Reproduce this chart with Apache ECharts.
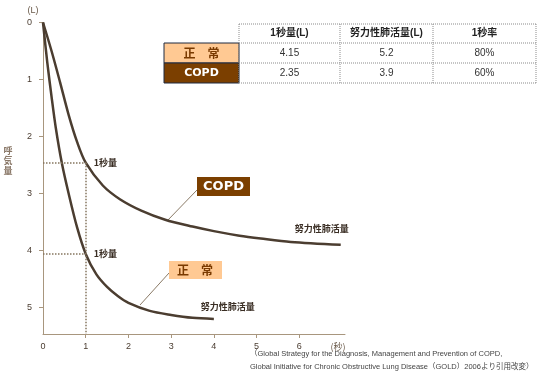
<!DOCTYPE html>
<html><head><meta charset="utf-8">
<script src="https://cdn.jsdelivr.net/npm/echarts@6/dist/echarts.min.js"></script>
<style>html,body{margin:0;padding:0;background:#fff}#c{width:550px;height:380px}</style>
</head><body><div id="c"></div>
<script>
// ---- data ----
const normalT = [0, 0.1, 0.2, 0.3, 0.44, 0.6, 0.8, 1, 1.25, 1.5, 1.75, 2, 2.5, 3, 3.5, 4];
const normalV = [0, 0.7, 1.3, 1.85, 2.46, 3.0, 3.6, 4.06, 4.42, 4.64, 4.8, 4.92, 5.06, 5.13, 5.18, 5.2];
const copdT = [0, 0.2, 0.4, 0.6, 0.8, 1, 1.4, 1.8, 2.3, 2.86, 3.5, 4, 4.6, 5.1, 5.8, 6.97];
const copdV = [0, 0.5, 1.05, 1.62, 2.1, 2.46, 2.86, 3.1, 3.3, 3.46, 3.58, 3.66, 3.74, 3.79, 3.85, 3.9];
const fev1Drawn = [2.46, 4.06];          // where the dotted 1-second lines sit on the curves
const xTicks = [0, 1, 2, 3, 4, 5, 6];
const yTicks = [0, 1, 2, 3, 4, 5];
const tableHeaders = ['1秒量(L)', '努力性肺活量(L)', '1秒率'];
const tableRowNames = ['正　常', 'COPD'];
const tableNormal = ['4.15', '5.2', '80%'];
const tableCopd = ['2.35', '3.9', '60%'];

const FONT = "'Liberation Sans','Noto Sans CJK JP',sans-serif";
const JP = "'Noto Sans CJK JP',sans-serif";
const curveColor = '#4b3d30';
const axisColor = '#a8967e';
const labelColor = '#4a3c30';
const brown = '#7b3f00';
const peach = '#ffc993';

const toPairs = (t, v) => t.map((x, i) => [x, v[i]]);

const chart = echarts.init(document.getElementById('c'), null, {renderer: 'canvas'});

const g = [];
const dot = {stroke: '#8c8c8c', lineWidth: 1, lineDash: [1, 1]};
const colX = [164, 239, 340, 433, 536];
const rowY = [24, 43, 63, 83];
function line(x1, y1, x2, y2, style) {
  g.push({type: 'line', shape: {x1, y1, x2, y2}, style: Object.assign({}, style), silent: true});
}
function text(x, y, t, st) {
  g.push({type: 'text', x, y, silent: true, style: Object.assign({text: t, align: 'center', verticalAlign: 'middle', fontFamily: FONT, fontSize: 10, fill: '#2a2a2a'}, st)});
}
g.push({type: 'rect', shape: {x: colX[0], y: rowY[1], width: colX[1] - colX[0], height: rowY[2] - rowY[1]}, style: {fill: peach, stroke: '#1e2a40', lineWidth: 1}, silent: true});
g.push({type: 'rect', shape: {x: colX[0], y: rowY[2], width: colX[1] - colX[0], height: rowY[3] - rowY[2]}, style: {fill: brown, stroke: '#1e2a40', lineWidth: 1}, silent: true});
line(colX[1], rowY[0], colX[4], rowY[0], dot);
for (let r = 1; r <= 3; r++) line(colX[1], rowY[r], colX[4], rowY[r], dot);
for (let c = 1; c <= 4; c++) line(colX[c], rowY[0], colX[c], rowY[3], dot);
for (let c = 0; c < 3; c++) {
  const cx = (colX[c + 1] + colX[c + 2]) / 2;
  text(cx, (rowY[0] + rowY[1]) / 2, tableHeaders[c], {fontWeight: 'bold', fontSize: 10, fill: '#222'});
  text(cx, (rowY[1] + rowY[2]) / 2, tableNormal[c], {fontSize: 10, fill: '#333'});
  text(cx, (rowY[2] + rowY[3]) / 2, tableCopd[c], {fontSize: 10, fill: '#333'});
}
text((colX[0] + colX[1]) / 2, (rowY[1] + rowY[2]) / 2, tableRowNames[0], {fontFamily: JP, fontWeight: 'bold', fontSize: 12, fill: '#7a3a00'});
text((colX[0] + colX[1]) / 2, (rowY[2] + rowY[3]) / 2, tableRowNames[1], {fontFamily: "'DejaVu Sans',sans-serif", fontWeight: 'bold', fontSize: 11, fill: '#fff'});

line(197, 190, 167, 221, {stroke: '#8a7a66', lineWidth: 1});
g.push({type: 'rect', shape: {x: 197, y: 177, width: 53, height: 19}, style: {fill: brown}, silent: true});
text(223.5, 186.5, 'COPD', {fontFamily: "'DejaVu Sans',sans-serif", fontWeight: 'bold', fontSize: 13, fill: '#fff'});
line(169, 273, 140, 305, {stroke: '#8a7a66', lineWidth: 1});
g.push({type: 'rect', shape: {x: 169, y: 261, width: 53, height: 18}, style: {fill: peach}, silent: true});
text(195, 270, '正　常', {fontFamily: JP, fontWeight: 'bold', fontSize: 12, fill: '#7a3a00'});

text(33, 11, '(L)', {fontSize: 9, fill: '#6a5a4a'});
text(338, 347, '(秒)', {fontSize: 9, fill: '#6a5a4a', fontFamily: JP});
g.push({type: 'text', x: 8, y: 161, silent: true, style: {text: '呼\n気\n量', align: 'center', verticalAlign: 'middle', fontFamily: JP, fontWeight: 'bold', fontSize: 9, lineHeight: 10, fill: '#8a7868'}});
text(250, 354, '（Global Strategy for the Diagnosis, Management and Prevention of COPD,', {align: 'left', fontSize: 7.5, fill: '#444'});
text(250, 367, 'Global Initiative for Chronic Obstructive Lung Disease（GOLD）2006より引用改変）', {align: 'left', fontSize: 7.5, fill: '#444'});

const dotted = {type: 'dotted', color: '#85755f', width: 1.5};
const oneSecLabel = {show: true, position: 'end', formatter: '1秒量', distance: 8, fontSize: 9, fontWeight: 'bold', color: '#3a2e24', fontFamily: JP};

chart.setOption({
  backgroundColor: '#fff',
  animation: false,
  grid: {left: 43, right: 205, top: 22.5, bottom: 46, containLabel: false},
  xAxis: {
    type: 'value', min: 0, max: 7.07, interval: 1, position: 'bottom',
    axisLine: {onZero: false, lineStyle: {color: axisColor, width: 1}},
    axisTick: {show: true, length: 4, lineStyle: {color: axisColor}, customValues: xTicks.slice(1)},
    axisLabel: {color: labelColor, fontSize: 9, margin: 8, fontFamily: FONT, customValues: xTicks,
      formatter: v => (xTicks.indexOf(v) >= 0 ? String(v) : '')},
    splitLine: {show: false}
  },
  yAxis: {
    type: 'value', inverse: true, min: 0, max: 5.465, interval: 1,
    axisLine: {show: true, lineStyle: {color: axisColor, width: 1}},
    axisTick: {show: true, length: 4, lineStyle: {color: axisColor}, customValues: yTicks},
    axisLabel: {color: labelColor, fontSize: 9, margin: 11, fontFamily: FONT, customValues: yTicks,
      formatter: v => (yTicks.indexOf(v) >= 0 ? String(v) : '')},
    splitLine: {show: false}
  },
  series: [
    {
      name: 'COPD', type: 'line', data: toPairs(copdT, copdV), showSymbol: false, symbol: 'none',
      smooth: 0.3, lineStyle: {color: curveColor, width: 2.5}, silent: true,
      endLabel: {show: true, formatter: '努力性肺活量', offset: [-54, -16], fontSize: 9, fontWeight: 'bold', color: '#3a2e24', fontFamily: JP},
      markLine: {silent: true, symbol: ['none', 'none'], lineStyle: dotted, animation: false,
        data: [
          [{coord: [0, fev1Drawn[0]], label: oneSecLabel}, {coord: [1, fev1Drawn[0]]}],
          [{coord: [1, fev1Drawn[0]], label: {show: false}}, {coord: [1, 5.465]}],
          [{coord: [0, fev1Drawn[1]], label: oneSecLabel}, {coord: [1, fev1Drawn[1]]}]
        ]}
    },
    {
      name: '正常', type: 'line', data: toPairs(normalT, normalV), showSymbol: false, symbol: 'none',
      smooth: 0.3, lineStyle: {color: curveColor, width: 2.5}, silent: true,
      endLabel: {show: true, formatter: '努力性肺活量', offset: [-21, -12], fontSize: 9, fontWeight: 'bold', color: '#3a2e24', fontFamily: JP}
    }
  ],
  graphic: g
});
</script></body></html>
